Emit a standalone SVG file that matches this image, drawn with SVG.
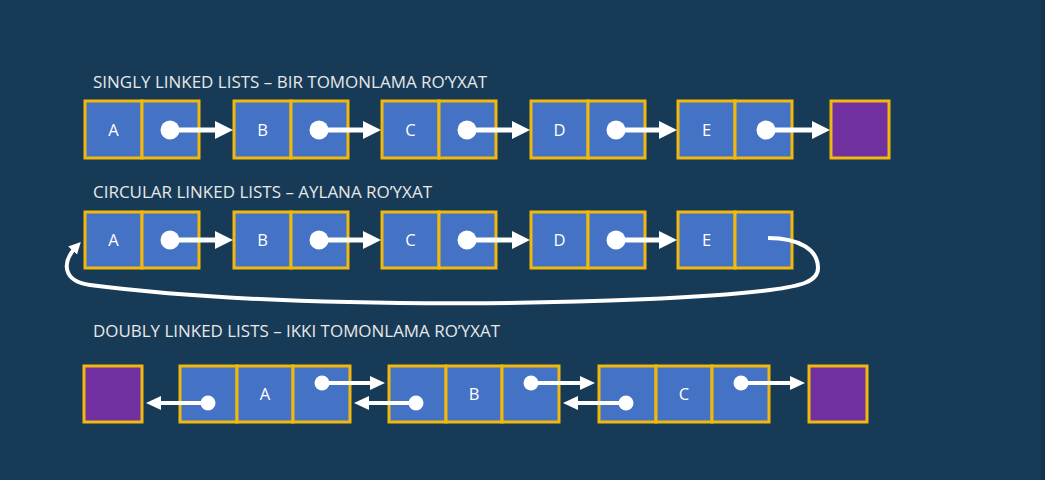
<svg xmlns="http://www.w3.org/2000/svg" width="1045" height="480" viewBox="0 0 1045 480">
<style>
.cell{fill:#4472c4;stroke:#f2b80c;stroke-width:3}
.end{fill:#7030a0;stroke:#f2b80c;stroke-width:3}
.lbl{font-family:"Open Sans","Liberation Sans",sans-serif;font-size:17px;fill:#e8e8e8}
.val{font-family:"Open Sans","Liberation Sans",sans-serif;font-size:16.5px;fill:#ffffff;text-anchor:middle}
.ln{stroke:#ffffff;stroke-width:5;fill:none}
.ln2{stroke:#ffffff;stroke-width:4;fill:none}
.dot{fill:#ffffff}
</style>
<defs>
<marker id="ah" markerUnits="userSpaceOnUse" markerWidth="18" markerHeight="18" refX="8" refY="9" orient="auto"><path d="M0,0 L18,9 L0,18 z" fill="#ffffff"/></marker>
<marker id="ah2" markerUnits="userSpaceOnUse" markerWidth="15" markerHeight="14" refX="6" refY="7" orient="auto"><path d="M0,0 L15,7 L0,14 z" fill="#ffffff"/></marker>
<marker id="ah3" markerUnits="userSpaceOnUse" markerWidth="12" markerHeight="12" refX="5" refY="6" orient="auto"><path d="M0,0 L12,6 L0,12 z" fill="#ffffff"/></marker>
</defs>
<rect x="0" y="0" width="1045" height="480" fill="#173a57"/>
<rect x="1041" y="0" width="4" height="480" fill="#13324b"/>

<text class="lbl" x="93" y="88" textLength="394" lengthAdjust="spacingAndGlyphs">SINGLY LINKED LISTS – BIR TOMONLAMA RO’YXAT</text>
<text class="lbl" x="93" y="198" textLength="339" lengthAdjust="spacingAndGlyphs">CIRCULAR LINKED LISTS – AYLANA RO’YXAT</text>
<text class="lbl" x="93" y="337" textLength="407" lengthAdjust="spacingAndGlyphs">DOUBLY LINKED LISTS – IKKI TOMONLAMA RO’YXAT</text>

<!-- Singly -->
<g id="s-A"><rect class="cell" x="85" y="101" width="57" height="57"/><rect class="cell" x="142" y="101" width="57" height="57"/><text class="val" x="113.5" y="136">A</text></g>
<g id="s-B"><rect class="cell" x="234" y="101" width="57" height="57"/><rect class="cell" x="291" y="101" width="57" height="57"/><text class="val" x="262.5" y="136">B</text></g>
<g id="s-C"><rect class="cell" x="382" y="101" width="57" height="57"/><rect class="cell" x="439" y="101" width="57" height="57"/><text class="val" x="410.5" y="136">C</text></g>
<g id="s-D"><rect class="cell" x="531" y="101" width="57" height="57"/><rect class="cell" x="588" y="101" width="57" height="57"/><text class="val" x="559.5" y="136">D</text></g>
<g id="s-E"><rect class="cell" x="678" y="101" width="57" height="57"/><rect class="cell" x="735" y="101" width="57" height="57"/><text class="val" x="706.5" y="136">E</text></g>
<g id="s-null"><rect class="end" x="831" y="101" width="58" height="57"/></g>

<!-- Circular -->
<g id="c-A"><rect class="cell" x="85" y="212" width="57" height="56"/><rect class="cell" x="142" y="212" width="57" height="56"/><text class="val" x="113.5" y="246">A</text></g>
<g id="c-B"><rect class="cell" x="234" y="212" width="57" height="56"/><rect class="cell" x="291" y="212" width="57" height="56"/><text class="val" x="262.5" y="246">B</text></g>
<g id="c-C"><rect class="cell" x="382" y="212" width="57" height="56"/><rect class="cell" x="439" y="212" width="57" height="56"/><text class="val" x="410.5" y="246">C</text></g>
<g id="c-D"><rect class="cell" x="531" y="212" width="57" height="56"/><rect class="cell" x="588" y="212" width="57" height="56"/><text class="val" x="559.5" y="246">D</text></g>
<g id="c-E"><rect class="cell" x="678" y="212" width="57" height="56"/><rect class="cell" x="735" y="212" width="57" height="56"/><text class="val" x="706.5" y="246">E</text></g>

<!-- Doubly -->
<g id="d-null-left"><rect class="end" x="84" y="366" width="58" height="56"/></g>
<g id="d-A"><rect class="cell" x="180" y="366" width="57" height="56"/><rect class="cell" x="237" y="366" width="56" height="56"/><rect class="cell" x="293" y="366" width="57" height="56"/><text class="val" x="265" y="400">A</text></g>
<g id="d-B"><rect class="cell" x="389" y="366" width="57" height="56"/><rect class="cell" x="446" y="366" width="56" height="56"/><rect class="cell" x="502" y="366" width="57" height="56"/><text class="val" x="474" y="400">B</text></g>
<g id="d-C"><rect class="cell" x="599" y="366" width="57" height="56"/><rect class="cell" x="656" y="366" width="56" height="56"/><rect class="cell" x="712" y="366" width="57" height="56"/><text class="val" x="684" y="400">C</text></g>
<g id="d-null-right"><rect class="end" x="809" y="366" width="58" height="56"/></g>

<g id="connectors">
<!-- singly -->
<circle class="dot" cx="170" cy="130" r="9.5"/><line class="ln" x1="170" y1="130" x2="223" y2="130" marker-end="url(#ah)"/>
<circle class="dot" cx="319" cy="130" r="9.5"/><line class="ln" x1="319" y1="130" x2="371" y2="130" marker-end="url(#ah)"/>
<circle class="dot" cx="467" cy="130" r="9.5"/><line class="ln" x1="467" y1="130" x2="520" y2="130" marker-end="url(#ah)"/>
<circle class="dot" cx="616" cy="130" r="9.5"/><line class="ln" x1="616" y1="130" x2="667" y2="130" marker-end="url(#ah)"/>
<circle class="dot" cx="766" cy="130" r="9.5"/><line class="ln" x1="766" y1="130" x2="820" y2="130" marker-end="url(#ah)"/>
<!-- circular -->
<circle class="dot" cx="170" cy="240" r="9.5"/><line class="ln" x1="170" y1="240" x2="223" y2="240" marker-end="url(#ah)"/>
<circle class="dot" cx="319" cy="240" r="9.5"/><line class="ln" x1="319" y1="240" x2="371" y2="240" marker-end="url(#ah)"/>
<circle class="dot" cx="467" cy="240" r="9.5"/><line class="ln" x1="467" y1="240" x2="520" y2="240" marker-end="url(#ah)"/>
<circle class="dot" cx="616" cy="240" r="9.5"/><line class="ln" x1="616" y1="240" x2="667" y2="240" marker-end="url(#ah)"/>
<path class="ln2" d="M768,238 C800,238 818,250 818,268 C818,282 800,286 770,290 C650,305 300,312 90,285 C62,281 62,262 76,247" marker-end="url(#ah3)"/>
<!-- doubly -->
<circle class="dot" cx="208" cy="403" r="7.5"/><line class="ln2" x1="208" y1="403" x2="155" y2="403" marker-end="url(#ah2)"/>
<circle class="dot" cx="322" cy="383" r="7.5"/><line class="ln2" x1="322" y1="383" x2="376" y2="383" marker-end="url(#ah2)"/>
<circle class="dot" cx="416" cy="403" r="7.5"/><line class="ln2" x1="416" y1="403" x2="363" y2="403" marker-end="url(#ah2)"/>
<circle class="dot" cx="531" cy="383" r="7.5"/><line class="ln2" x1="531" y1="383" x2="586" y2="383" marker-end="url(#ah2)"/>
<circle class="dot" cx="626" cy="403" r="7.5"/><line class="ln2" x1="626" y1="403" x2="572" y2="403" marker-end="url(#ah2)"/>
<circle class="dot" cx="741" cy="383" r="7.5"/><line class="ln2" x1="741" y1="383" x2="796" y2="383" marker-end="url(#ah2)"/>
</g>
</svg>
